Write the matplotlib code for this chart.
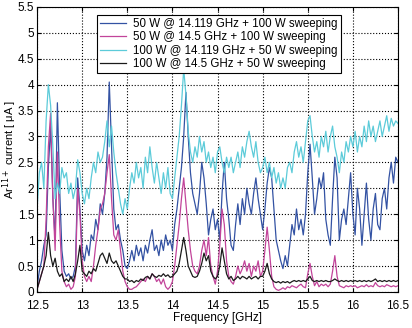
import numpy as np
import matplotlib.pyplot as plt
from matplotlib.ticker import FuncFormatter

plt.rcParams['font.family'] = ['Liberation Sans', 'DejaVu Sans']

freq = np.linspace(12.5, 16.5, 161)

# 50 W @ 14.119 GHz + 100 W sweeping
blue = [0.1, 0.4, 0.6, 0.9, 1.1, 2.4, 3.2, 1.8, 1.0, 3.65, 2.0, 0.8, 0.4, 0.3, 0.35, 0.25, 0.3, 0.5, 2.2, 1.6,
        0.8, 0.6, 0.9, 0.7, 1.1, 1.0, 1.4, 1.2, 1.7, 1.5, 1.9, 2.6, 4.05, 2.8, 1.6, 1.2, 1.3, 1.0, 0.8, 0.5,
        0.45, 0.6, 0.8, 0.6, 0.9, 0.7, 0.85, 0.6, 0.9, 0.75, 1.0, 1.2, 0.8, 0.9, 0.7, 1.0, 0.8, 1.1, 0.9, 1.0,
        0.8, 1.3, 1.6, 2.0, 2.4, 3.0, 3.85, 3.0, 2.3, 1.9, 1.7, 1.5, 1.9, 2.5, 2.2, 1.7, 1.1, 1.4, 1.6, 1.2,
        1.4, 1.0, 1.9, 2.5, 1.8, 1.4, 0.9, 0.8, 1.3, 1.7, 1.3, 1.8, 1.5, 2.0, 1.7, 1.5, 1.9, 2.2, 1.8, 1.5,
        1.2, 1.6, 2.1, 2.4, 2.2, 1.6, 1.0, 0.8, 0.6, 0.45, 0.7, 0.5, 0.9, 1.3, 1.1, 1.6, 1.2, 1.4, 1.1, 1.5,
        2.3, 2.85, 2.2, 1.5, 1.8, 2.2, 2.0, 2.3, 1.4, 1.1, 0.9, 1.8, 2.6, 2.2, 1.0, 1.4, 1.6, 1.3, 1.8, 2.3,
        1.5, 1.1, 2.0, 1.6, 0.9, 1.5, 2.1, 1.4, 1.0, 1.6, 1.9, 1.3, 1.2, 1.8, 2.0, 1.6, 2.2, 2.5, 2.1, 2.6,
        2.5]

# 50 W @ 14.5 GHz + 100 W sweeping
magenta = [0.05, 0.2, 0.35, 0.5, 1.4, 2.8, 3.45, 1.8, 0.8, 2.7, 1.3, 0.4, 0.2, 0.1, 0.15, 0.05, 0.1, 0.3, 2.0, 1.5,
           0.6, 0.3, 0.2, 0.3, 0.2, 0.5, 0.9, 1.2, 1.6, 1.7, 1.9, 2.3, 2.65, 1.8, 1.1, 1.0, 1.2, 0.8, 0.4, 0.2,
           0.1, 0.05, 0.05, 0.08, 0.1, 0.15, 0.2, 0.25, 0.2, 0.3, 0.25, 0.35, 0.3, 0.2, 0.25, 0.15, 0.25, 0.1, 0.05, 0.1,
           0.2, 0.5, 0.9, 1.3, 1.8, 2.2, 1.7, 1.2, 0.8, 0.5, 0.4, 0.35, 0.5, 0.8, 1.0, 0.7, 1.05, 0.5, 0.3, 0.15,
           0.4, 0.9, 1.6, 1.3, 0.6, 0.3, 0.2, 0.15, 0.3, 0.5, 0.35, 0.45, 0.6, 0.4, 0.55, 0.3, 0.5, 0.4, 0.6, 0.3,
           0.4, 0.8, 1.25, 0.8, 0.3, 0.1, 0.05, 0.03, 0.05, 0.08, 0.05, 0.1, 0.08, 0.12, 0.1, 0.08, 0.12, 0.15, 0.1, 0.08,
           0.35, 0.55, 0.3, 0.12, 0.2, 0.1, 0.15, 0.12, 0.15, 0.1, 0.15, 0.4, 0.7, 0.3, 0.12, 0.1, 0.08, 0.12, 0.1, 0.12,
           0.1, 0.12, 0.08, 0.1, 0.12, 0.1, 0.14, 0.1, 0.12, 0.1, 0.18, 0.12, 0.1, 0.12, 0.1, 0.14, 0.12, 0.1, 0.12, 0.1,
           0.12]

# 100 W @ 14.119 GHz + 50 W sweeping
cyan = [1.6, 2.3, 2.5, 2.0, 3.3, 4.0, 3.6, 2.8, 1.8, 2.1, 1.9, 2.4, 2.2, 2.3, 1.9, 2.1, 1.8, 2.0, 2.55, 2.3,
        1.9, 1.7, 2.0, 1.8, 2.2, 2.5, 2.3, 2.7, 2.5, 2.6, 2.9, 3.3, 2.8, 3.2, 2.7, 2.3, 2.0, 1.7, 1.5, 1.8,
        1.6, 2.0, 2.3, 2.1, 2.5, 2.2, 2.4, 2.0, 2.6, 2.3, 2.8, 2.4, 2.1, 2.5, 2.2, 1.9, 2.3, 2.0, 2.4, 1.9,
        1.8, 2.2, 2.6, 3.0, 3.6, 4.3, 3.8, 3.1, 2.7, 2.5, 2.8, 2.6, 3.0, 2.7, 2.9, 2.5, 2.7, 2.4, 2.6, 2.3,
        2.7, 2.8, 2.5, 2.3, 2.6, 2.4, 2.6, 2.3, 2.5, 2.7, 2.4, 2.8, 2.6, 2.9, 3.1, 2.8, 2.6, 2.9, 2.5, 2.3,
        2.4, 2.6, 2.3, 2.5, 2.2, 2.4, 2.1, 2.3, 2.0, 2.2, 2.0, 2.4, 2.5, 2.3, 2.7, 2.9, 2.6, 2.8, 2.5, 2.9,
        3.3, 3.4, 3.0, 2.7, 2.9, 2.6, 3.0, 2.8, 3.1, 2.7, 3.0, 3.2, 2.8, 2.6, 2.3, 2.7, 2.5, 2.9, 2.7, 3.0,
        2.8, 3.1, 2.7, 3.0, 2.8, 3.2, 2.9, 3.3, 3.0, 3.2, 2.9, 3.1, 3.3, 3.0, 3.2, 3.4, 3.1, 3.35, 3.2, 3.3,
        3.25]

# 100 W @ 14.5 GHz + 50 W sweeping
black = [0.05, 0.2, 0.35, 0.5, 0.7, 1.15, 0.7, 0.5, 0.65, 0.4, 0.3, 0.35, 0.2, 0.25, 0.2, 0.3, 0.2, 0.35, 0.6, 0.9,
         0.4, 0.35, 0.3, 0.4, 0.35, 0.45, 0.4, 0.55, 0.7, 0.75, 0.65, 0.55, 0.75, 0.6, 0.55, 0.6, 0.5, 0.4, 0.3, 0.25,
         0.25, 0.2, 0.22, 0.18, 0.22, 0.2, 0.25, 0.22, 0.28, 0.3, 0.25, 0.35, 0.3, 0.28, 0.32, 0.3, 0.35, 0.3, 0.33, 0.28,
         0.3, 0.35, 0.4, 0.55, 0.8, 1.05, 0.8, 0.5, 0.4, 0.3, 0.28, 0.3, 0.4, 0.55, 0.75, 0.6, 0.7, 0.4, 0.3, 0.25,
         0.3, 0.5, 0.85, 0.6, 0.35, 0.25, 0.3, 0.22, 0.25, 0.3, 0.25, 0.3, 0.28, 0.25, 0.3, 0.25, 0.28, 0.3, 0.25, 0.3,
         0.3, 0.4, 0.55, 0.35, 0.25, 0.2, 0.18, 0.2, 0.17, 0.2, 0.18, 0.2, 0.17, 0.2, 0.22, 0.2, 0.22, 0.2, 0.22, 0.2,
         0.25, 0.3, 0.22, 0.2, 0.22, 0.2, 0.22, 0.2, 0.22, 0.2, 0.2, 0.22, 0.25, 0.22, 0.2, 0.22, 0.2, 0.22, 0.2, 0.22,
         0.2, 0.22, 0.2, 0.22, 0.2, 0.22, 0.2, 0.22, 0.2, 0.22, 0.25, 0.2, 0.22, 0.2, 0.22, 0.2, 0.22, 0.2, 0.22, 0.2,
         0.22]

labels = ['50 W @ 14.119 GHz + 100 W sweeping',
          '50 W @ 14.5 GHz + 100 W sweeping',
          '100 W @ 14.119 GHz + 50 W sweeping',
          '100 W @ 14.5 GHz + 50 W sweeping']
colors = ['#3352a3', '#c2449a', '#5ccbd9', '#1a1a1a']

fig = plt.figure(figsize=(4.12, 3.28), dpi=100)
ax = fig.add_axes([0.09, 0.11, 0.876, 0.869])

for y, lab, col in zip([blue, magenta, cyan, black], labels, colors):
    ax.plot(freq, y, color=col, lw=0.9, label=lab)

ax.set_xlim(12.5, 16.5)
ax.set_ylim(0, 5.5)
ax.set_xticks(np.arange(12.5, 16.51, 0.5))
ax.set_yticks(np.arange(0, 5.51, 0.5))
fmt = FuncFormatter(lambda v, p: '%g' % v)
ax.xaxis.set_major_formatter(fmt)
ax.yaxis.set_major_formatter(fmt)
ax.tick_params(direction='in', top=True, right=True, labelsize=8.5, length=3)
ax.tick_params(axis='x', pad=5.5)
ax.tick_params(axis='y', pad=2)
ax.grid(True, color='black', linestyle=':', linewidth=0.8)
for s in ax.spines.values():
    s.set_linewidth(0.8)

ax.set_xlabel('Frequency [GHz]', fontsize=8.5, labelpad=0)
ax.set_ylabel('Ar$^{11+}$ current [ \u03bcA ]', fontsize=8)
ax.yaxis.set_label_coords(-0.05, 0.5)

leg = ax.legend(loc='upper left', bbox_to_anchor=(0.166, 0.972), fontsize=8.3,
                frameon=True, fancybox=False, edgecolor='black', framealpha=1,
                handlelength=2.2, handletextpad=0.6, borderpad=0.3, labelspacing=0.1,
                borderaxespad=0)
leg.get_frame().set_linewidth(0.8)

fig.savefig('out.png', dpi=100)
